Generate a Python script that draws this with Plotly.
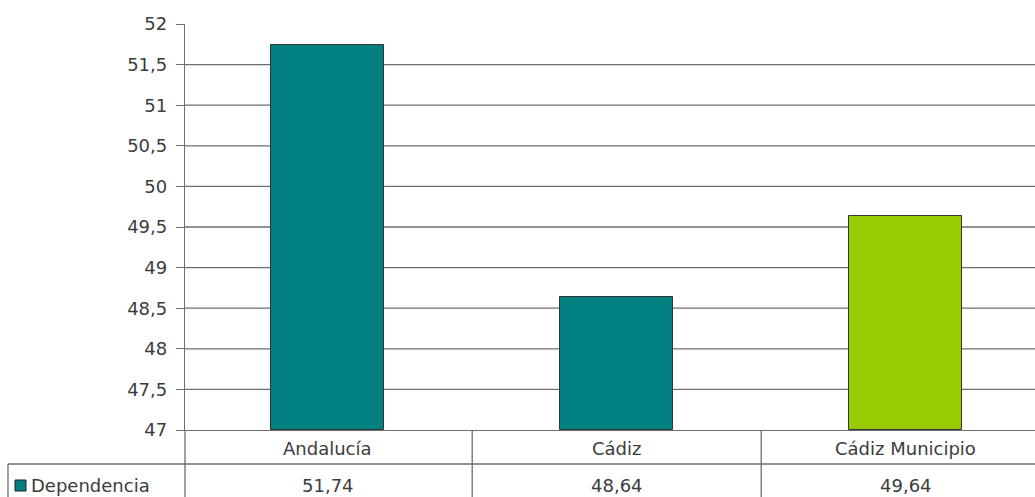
import plotly.graph_objects as go

categories = ["Andalucía", "Cádiz", "Cádiz Municipio"]
values = [51.74, 48.64, 49.64]
bar_colors = ["#008080", "#008080", "#99CC00"]
series_name = "Dependencia"
y_tick_vals = [47, 47.5, 48, 48.5, 49, 49.5, 50, 50.5, 51, 51.5, 52]
y_tick_text = ["47", "47,5", "48", "48,5", "49", "49,5", "50", "50,5", "51", "51,5", "52"]

W, H = 1035, 497
ML, MR, MT, MB = 185, 0, 24, 67
pw, ph = W - ML - MR, H - MT - MB

def px_x(p):
    return (p - ML) / pw

def px_y(p):
    return (H - MB - p) / ph

FONT = "DejaVu Sans"
FS = 18
TXT = "#3c3c3c"
LINE = "#6e6e6e"
x0 = -0.5 + 1.8 / 289

fig = go.Figure()
fig.add_trace(go.Bar(
    x=list(range(len(categories))), y=[v - 47 for v in values], base=47,
    marker=dict(color=bar_colors, line=dict(color="#333333", width=1)),
    width=0.39, name=series_name, showlegend=False, hoverinfo="skip",
))

shapes = []
for v in y_tick_vals[1:-1]:
    shapes.append(dict(type="line", xref="paper", yref="y", x0=0, x1=1, y0=v, y1=v,
                       line=dict(color=LINE, width=1.3), layer="below"))
row1_y = px_y(464)
bottom_y = px_y(500)
shapes.append(dict(type="line", xref="paper", yref="paper", x0=0, x1=0, y0=0, y1=bottom_y,
                   line=dict(color=LINE, width=1.3)))
for i in range(1, len(categories)):
    shapes.append(dict(type="line", xref="x", yref="paper", x0=i - 0.5, x1=i - 0.5, y0=0, y1=bottom_y,
                       line=dict(color=LINE, width=1.3)))
shapes.append(dict(type="line", xref="paper", yref="paper", x0=px_x(8), x1=1, y0=row1_y, y1=row1_y,
                   line=dict(color=LINE, width=1.3)))
shapes.append(dict(type="line", xref="paper", yref="paper", x0=px_x(8), x1=px_x(8), y0=row1_y, y1=bottom_y,
                   line=dict(color=LINE, width=1.3)))
shapes.append(dict(type="rect", xref="paper", yref="paper", x0=px_x(15), x1=px_x(26),
                   y0=px_y(491), y1=px_y(480), fillcolor=bar_colors[0],
                   line=dict(color="#222222", width=1)))

annotations = []
for i, c in enumerate(categories):
    annotations.append(dict(x=i, xref="x", y=px_y(448), yref="paper", text=c, showarrow=False,
                            font=dict(family=FONT, size=FS, color=TXT), yanchor="middle"))
    annotations.append(dict(x=i, xref="x", y=px_y(485), yref="paper",
                            text=f"{values[i]:.2f}".replace(".", ","), showarrow=False,
                            font=dict(family=FONT, size=FS, color=TXT), yanchor="middle"))
annotations.append(dict(x=px_x(29), xref="paper", y=px_y(485), yref="paper", text=series_name,
                        showarrow=False, xanchor="left", yanchor="middle",
                        font=dict(family=FONT, size=FS, color=TXT)))

fig.update_layout(
    width=W, height=H, margin=dict(l=ML, r=MR, t=MT, b=MB),
    paper_bgcolor="white", plot_bgcolor="white",
    separators=", ",
    bargap=0,
    xaxis=dict(range=[x0, x0 + pw / 289], showticklabels=False, showgrid=False, zeroline=False,
               showline=True, linecolor=LINE, linewidth=1.3, ticks=""),
    yaxis=dict(range=[47, 52], tickvals=y_tick_vals, ticktext=y_tick_text, showgrid=False,
               zeroline=False, showline=True, linecolor=LINE, linewidth=1.3,
               ticks="outside", ticklen=8, tickcolor=LINE, tickwidth=1.3, ticklabelstandoff=5,
               tickfont=dict(family=FONT, size=FS, color=TXT)),
    shapes=shapes, annotations=annotations,
)
fig.write_html("out.html", config={"displayModeBar": False},
               post_script="document.body.style.margin='0px';document.body.style.overflow='hidden';")
